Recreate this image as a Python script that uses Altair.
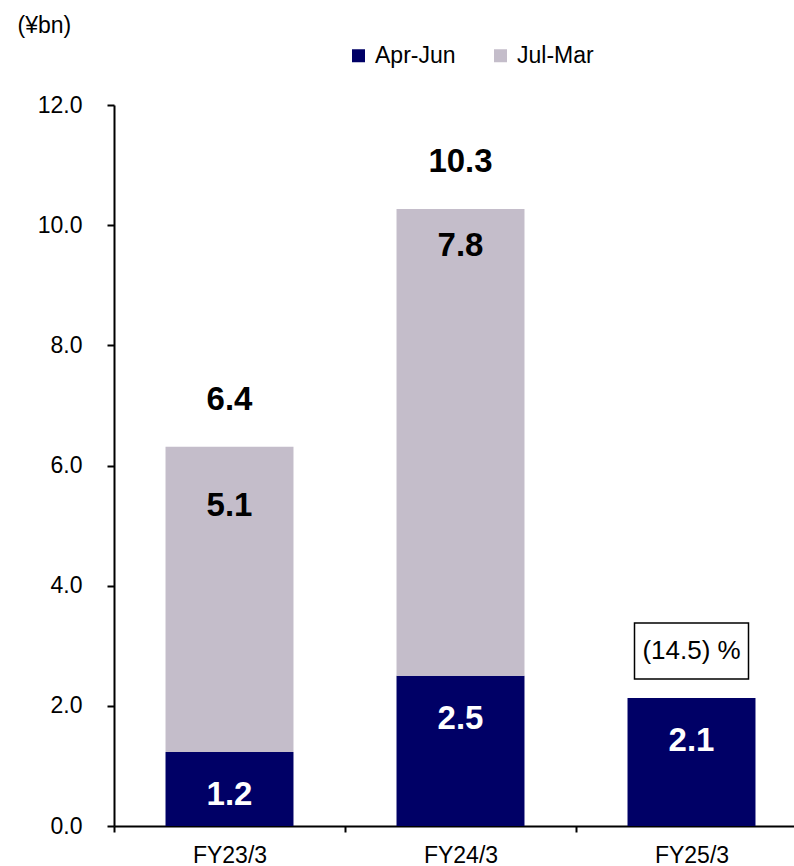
import altair as alt
import pandas as pd

categories = ["FY23/3", "FY24/3", "FY25/3"]
series = ["Apr-Jun", "Jul-Mar"]
apr_jun = [1.23, 2.50, 2.13]
jul_mar = [5.08, 7.77, 0.0]
apr_jun_labels = ["1.2", "2.5", "2.1"]
jul_mar_labels = ["5.1", "7.8", ""]
total_labels = ["6.4", "10.3", ""]
change_category = "FY25/3"
change_label = "(14.5) %"
y_ticks = [0, 2, 4, 6, 8, 10, 12]
unit_label = "(¥bn)"

NAVY = "#000066"
GREY = "#C4BDCA"
FONT = "Liberation Sans"

rows = []
for c, a, j in zip(categories, apr_jun, jul_mar):
    rows.append({"cat": c, "series": series[0], "value": a, "order": 0})
    if j > 0:
        rows.append({"cat": c, "series": series[1], "value": j, "order": 1})
bars_df = pd.DataFrame(rows)

totals = [a + j for a, j in zip(apr_jun, jul_mar)]
lab_df = pd.DataFrame({
    "cat": categories,
    "apr": apr_jun,
    "total": totals,
    "apr_lab": apr_jun_labels,
    "jul_lab": jul_mar_labels,
    "tot_lab": total_labels,
})
chg_df = pd.DataFrame({
    "cat": [change_category],
    "total": [totals[categories.index(change_category)]],
    "lab": [change_label],
})

x_scale = alt.Scale(range=[0, 693], paddingInner=0, paddingOuter=0)
x_axis = alt.Axis(
    title=None, labelAngle=0, tickBand="extent", tickSize=6, tickWidth=2,
    tickColor="black", domainColor="black", domainWidth=2,
    labelFontSize=23, labelColor="black", labelPadding=12, labelFont=FONT,
)
y_scale = alt.Scale(domain=[0, 12], nice=False, zero=True)
y_axis = alt.Axis(
    values=y_ticks, format=".1f", tickSize=7, tickWidth=2, tickColor="black",
    domainColor="black", domainWidth=2, grid=False,
    labelFontSize=23, labelColor="black", labelPadding=25, labelFont=FONT,
    title=unit_label, titleAngle=0, titleAlign="left", titleBaseline="alphabetic",
    titleX=-97, titleY=-73, titleFontSize=23, titleFontWeight="normal",
    titleColor="black", titleFont=FONT,
)


def X():
    return alt.X("cat:N", sort=categories, scale=x_scale, axis=x_axis)


def Y(field, **kw):
    return alt.Y(field, scale=y_scale, axis=y_axis, title=unit_label, **kw)


bars = alt.Chart(bars_df).mark_bar(width=alt.RelativeBandSize(0.554)).encode(
    x=X(),
    y=Y("value:Q", stack="zero"),
    color=alt.Color(
        "series:N",
        scale=alt.Scale(domain=series, range=[NAVY, GREY]),
        legend=alt.Legend(
            orient="none", legendX=233, legendY=-61, direction="horizontal",
            title=None, symbolType="square", symbolSize=169, symbolStrokeWidth=0,
            labelFontSize=23, labelColor="black", labelOffset=5, columnPadding=33,
            labelFont=FONT,
        ),
    ),
    order=alt.Order("order:Q", sort="ascending"),
)

apr_text = alt.Chart(lab_df).mark_text(
    color="white", fontSize=33, fontWeight="bold", dy=43, baseline="middle", font=FONT
).encode(x=X(), y=Y("apr:Q"), text="apr_lab:N")

jul_text_a = alt.Chart(lab_df).transform_filter(
    alt.datum.cat == categories[0]
).mark_text(
    color="black", fontSize=33, fontWeight="bold", dy=59, baseline="middle", font=FONT
).encode(x=X(), y=Y("total:Q"), text="jul_lab:N")

jul_text_b = alt.Chart(lab_df).transform_filter(
    alt.datum.cat == categories[1]
).mark_text(
    color="black", fontSize=33, fontWeight="bold", dy=37, baseline="middle", font=FONT
).encode(x=X(), y=Y("total:Q"), text="jul_lab:N")

tot_text = alt.Chart(lab_df).mark_text(
    color="black", fontSize=33, fontWeight="bold", dy=-47, baseline="middle", font=FONT
).encode(x=X(), y=Y("total:Q"), text="tot_lab:N")

box = alt.Chart(chg_df).mark_point(
    shape="M-1,-0.491L1,-0.491L1,0.491L-1,0.491Z",
    size=12996, fill="white", stroke="black", strokeWidth=1.5, opacity=1,
    filled=False, yOffset=-47,
).encode(x=X(), y=Y("total:Q"))

box_text = alt.Chart(chg_df).mark_text(
    color="black", fontSize=26, dy=-47, baseline="middle", font=FONT
).encode(x=X(), y=Y("total:Q"), text="lab:N")

chart = alt.layer(
    bars, apr_text, jul_text_a, jul_text_b, tot_text, box, box_text
).properties(
    width=680,
    height=721,
    autosize=alt.AutoSizeParams(type="none"),
    padding={"left": 114, "top": 105, "right": 0, "bottom": 40},
    background="white",
).configure(font=FONT, view=alt.ViewConfig(stroke=None))

chart.save("out.html", embed_options={"renderer": "svg", "actions": False})
